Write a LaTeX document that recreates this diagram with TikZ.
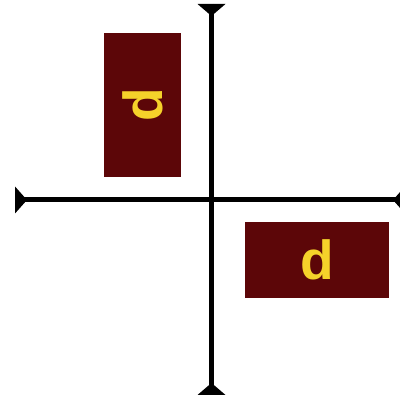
\documentclass[tikz,border=0pt]{standalone}
\usepackage{fontspec}
\setmainfont{Liberation Sans}
\definecolor{boxred}{RGB}{92,6,8}
\definecolor{lettery}{RGB}{245,210,42}
\begin{document}
\begin{tikzpicture}[x=1pt,y=-1pt,
  axis/.style={line width=5pt,black},
  tipfill/.style={fill=black},
  card/.style={fill=boxred,draw=none,inner sep=0pt,anchor=north west},
  letter/.style={text=lettery,font=\fontsize{55}{60}\selectfont\bfseries,inner sep=0pt}]
\useasboundingbox (0,0) rectangle (400,398);
% cards
\node[card,minimum width=77pt,minimum height=144pt] (c1) at (104,33) {};
\node[card,minimum width=144pt,minimum height=76pt] (c2) at (245,222) {};
\node[letter,rotate=90] (l1) at (c1.center) {d};
\node[letter] (l2) at (c2.center) {d};
% axes
\coordinate (top) at (211.5,4);
\coordinate (bot) at (211.5,395);
\coordinate (lft) at (15,200);
\coordinate (rgt) at (405,200);
\draw[axis] (top) -- (bot);
\draw[axis] (lft) -- (rgt);
\fill[tipfill] ([xshift=-14pt]top) -- ([xshift=14pt]top) -- ([yshift=-12pt]top) -- cycle;
\fill[tipfill] ([xshift=-14pt]bot) -- ([xshift=14pt]bot) -- ([yshift=12pt]bot) -- cycle;
\fill[tipfill] ([yshift=-13.5pt]lft) -- ([yshift=13.5pt]lft) -- ([xshift=12pt]lft) -- cycle;
\fill[tipfill] ([yshift=-13.5pt]rgt) -- ([yshift=13.5pt]rgt) -- ([xshift=-12pt]rgt) -- cycle;
\end{tikzpicture}
\end{document}
